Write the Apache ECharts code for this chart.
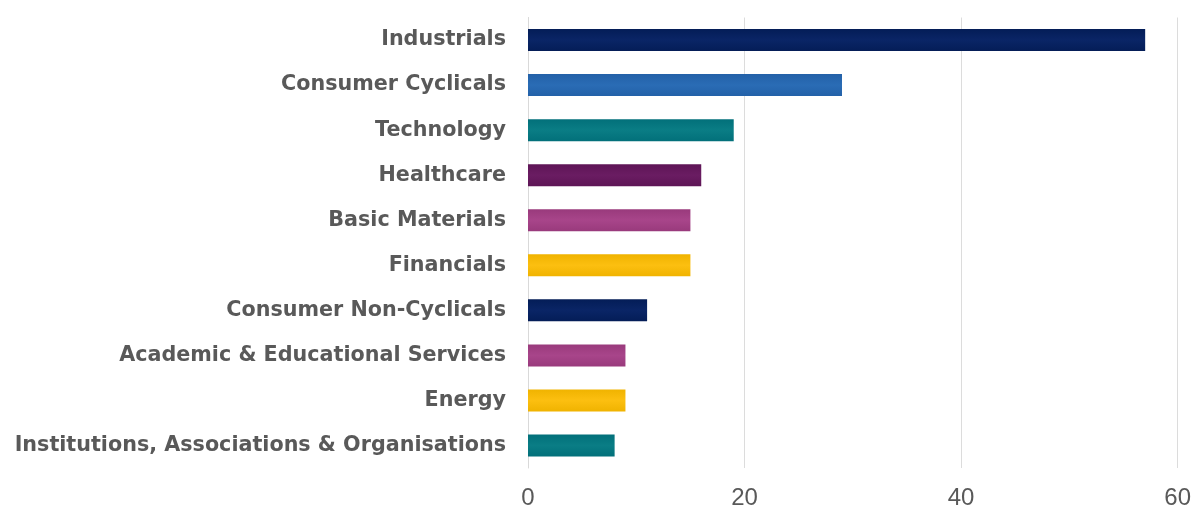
<!DOCTYPE html>
<html><head><meta charset="utf-8">
<script src="https://cdn.jsdelivr.net/npm/echarts@6/dist/echarts.min.js"></script>
<style>html,body{margin:0;padding:0;background:#fff}#c{width:1194px;height:510px}</style>
</head><body><div id="c"></div>
<script>
const categories = ["Industrials","Consumer Cyclicals","Technology","Healthcare","Basic Materials","Financials","Consumer Non-Cyclicals","Academic & Educational Services","Energy","Institutions, Associations & Organisations"];
const values = [57,29,19,16,15,15,11,9,9,8];
const barColors = ["#041d57","#2361a8","#02707a","#5e1556","#993a7c","#f0b300","#041d57","#993a7c","#f0b300","#02707a"];
const barHighlights = ["#0a2566","#2a6cb5","#0a7d85","#6a1c62","#a8458a","#fcbf10","#0a2566","#a8458a","#fcbf10","#0a7d85"];
const xTicks = [0,20,40,60];

function grad(i){
  return new echarts.graphic.LinearGradient(0,0,0,1,[
    {offset:0,color:barColors[i]},{offset:0.5,color:barHighlights[i]},{offset:1,color:barColors[i]}]);
}
const chart = echarts.init(document.getElementById('c'));
chart.setOption({
  animation:false,
  grid:{left:528,right:16,top:17.5,bottom:39.5,containLabel:false},
  xAxis:{type:'value',min:xTicks[0],max:xTicks[xTicks.length-1],interval:xTicks[1]-xTicks[0],
    axisLine:{show:false},axisTick:{show:false},
    splitLine:{show:true,lineStyle:{color:'#dcdcdc',width:1}},
    axisLabel:{color:'#595959',fontSize:24,fontFamily:'Liberation Sans, Arial',margin:18}},
  yAxis:{type:'category',data:categories,inverse:true,
    axisLine:{show:true,lineStyle:{color:'#d9d9d9'}},axisTick:{show:false},
    axisLabel:{color:'#595959',fontSize:20.7,fontWeight:'bold',fontFamily:'DejaVu Sans',margin:22,padding:[4,0,0,0]}},
  series:[{type:'bar',barWidth:22,
    data:values.map((v,i)=>({value:v,itemStyle:{color:grad(i)}}))}]
});
</script></body></html>
